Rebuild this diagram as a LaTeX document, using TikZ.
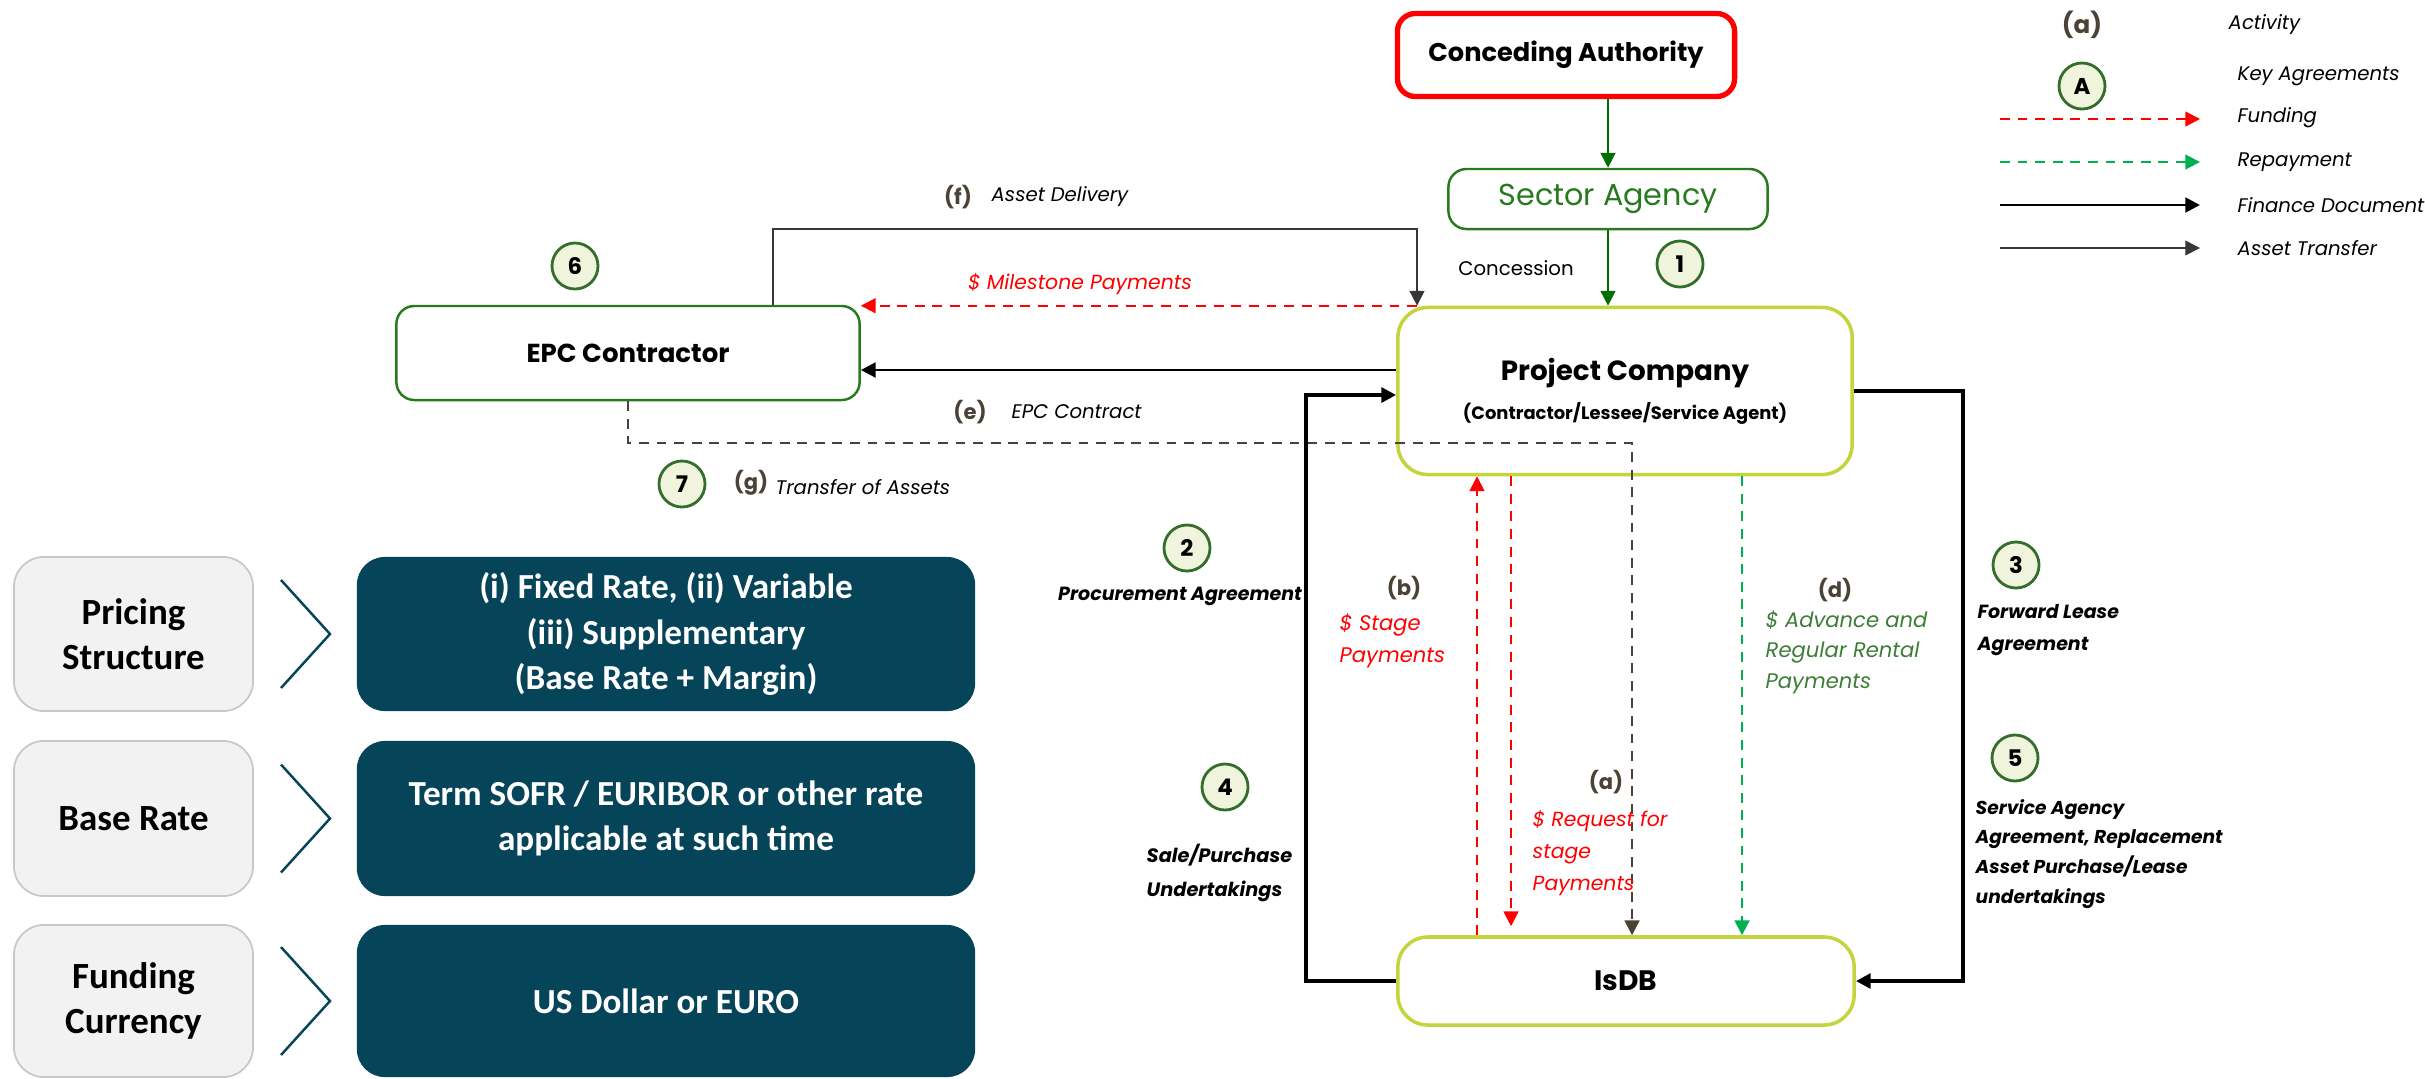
\documentclass[tikz,border=0pt]{standalone}
\usepackage{fontspec}
\setmainfont{Poppins}
\newfontfamily\calib{Carlito}
\usetikzlibrary{arrows.meta}
\definecolor{conred}{RGB}{255,0,0}
\definecolor{boxgreen}{RGB}{40,122,30}
\definecolor{arrgreen}{RGB}{0,110,0}
\definecolor{limeedge}{RGB}{196,212,60}
\definecolor{circfill}{RGB}{241,244,220}
\definecolor{circedge}{RGB}{52,110,44}
\definecolor{labbrown}{RGB}{75,66,54}
\definecolor{paygreen}{RGB}{0,176,80}
\definecolor{txtgreen}{RGB}{60,125,55}
\definecolor{teal}{RGB}{6,69,89}
\definecolor{greyfill}{RGB}{242,242,242}
\definecolor{greyedge}{RGB}{200,200,200}
\definecolor{assetgrey}{RGB}{55,55,55}
\newcommand\fsz[2]{\fontsize{#1}{#2}\selectfont}
\begin{document}
\begin{tikzpicture}[x=0.01cm,y=-0.01cm,
  tip/.style={-{Triangle[length=4.2pt,width=4.2pt]}},
  entity/.style={draw,rounded corners=0.18cm,align=center,inner sep=0pt,fill=white},
  limebox/.style={entity,draw=limeedge,line width=1pt,rounded corners=0.3cm},
  greenbox/.style={entity,draw=boxgreen,line width=0.7pt},
  num/.style={circle,draw=circedge,fill=circfill,line width=0.8pt,minimum size=0.46cm,inner sep=0pt,font=\fsz{6.5pt}{7pt}\bfseries},
  act/.style={text=labbrown,font=\fsz{6pt}{7pt}\bfseries,inner sep=0pt},
  note/.style={inner sep=0pt,align=left,anchor=west},
  legtext/.style={note,font=\fsz{5.6pt}{7pt}\itshape},
  fundline/.style={tip,draw=conred,line width=0.6pt,dash pattern=on 2.8pt off 2.2pt},
  repline/.style={tip,draw=paygreen,line width=0.6pt,dash pattern=on 2.8pt off 2.2pt},
  epcline/.style={tip,draw=labbrown,line width=0.6pt,dash pattern=on 2.8pt off 2.2pt},
  finline/.style={tip,draw=black,line width=1.1pt},
  assetline/.style={tip,draw=assetgrey,line width=0.45pt},
  govline/.style={tip,draw=arrgreen,line width=0.5pt},
  greybox/.style={draw=greyedge,fill=greyfill,line width=0.5pt,rounded corners=0.3cm,minimum width=2.39cm,align=center,inner sep=0pt,font=\calib\fsz{10.5pt}{12.8pt}\bfseries},
  tealbox/.style={fill=teal,rounded corners=0.28cm,minimum width=6.18cm,align=center,inner sep=0pt,text=white,font=\calib\fsz{10pt}{13pt}\bfseries},
  chev/.style={draw=teal,line width=0.7pt}
]
\useasboundingbox (0,0) rectangle (2425,1078);

% ---- entities ----
\node[entity,draw=conred,line width=1.5pt,minimum width=3.37cm,minimum height=0.83cm,font=\fsz{7.3pt}{9pt}\bfseries] (concede) at (1566,55) {Conceding Authority};
\node[greenbox,minimum width=3.19cm,minimum height=0.60cm,text=boxgreen,font=\fsz{8.6pt}{9pt}] (sector) at (1608,199) {Sector Agency};
\node[limebox,minimum width=4.54cm,minimum height=1.67cm] (project) at (1625,391) {{\fsz{7.9pt}{10pt}\bfseries Project Company}\\[-1pt]{\fsz{5.1pt}{7pt}\bfseries (Contractor/Lessee/Service Agent)}};
\node[greenbox,minimum width=4.63cm,minimum height=0.94cm,font=\fsz{7.4pt}{8pt}\bfseries] (epc) at (628,353) {EPC Contractor};
\node[limebox,minimum width=4.56cm,minimum height=0.88cm,font=\fsz{8pt}{9pt}\bfseries] (isdb) at (1626,981) {IsDB};

% ---- routing points ----
\coordinate (ad1) at (773,229);
\coordinate (ad2) at (1417,229);
\coordinate (ec) at (1100,370);
\coordinate (dk1) at (628,443);
\coordinate (dk2) at (1632,443);
\coordinate (fl) at (1306,395);
\coordinate (fr) at (1963,981);
\coordinate (ru) at (1477,700);
\coordinate (rd) at (1511,700);
\coordinate (gd) at (1742,700);

% ---- authority chain ----
\draw[govline] (sector.north |- concede.south) -- (sector.north);
\draw[govline] (sector.south) -- (sector.south |- project.north);
\node[font=\fsz{5.6pt}{7pt},inner sep=0pt] (concession) at (1516,268) {Concession};
\node[num] (n1) at (1680,264) {1};

% ---- EPC links ----
\draw[assetline] (ad1 |- epc.north) -- (ad1) -- (ad2) -- (ad2 |- project.north);
\node[act] (lf) at (958,197) {(f)};
\node[note,font=\fsz{5.6pt}{7pt}\itshape] (adlab) at (991,197) {Asset Delivery};
\draw[fundline] (ad2 |- project.north) -- (epc.east |- project.north);
\node[inner sep=0pt,text=conred,font=\fsz{5.8pt}{7pt}\itshape] (mslab) at (1080,284) {\$ Milestone Payments};
\draw[tip,draw=black,line width=0.8pt] (ec -| project.west) -- (ec -| epc.east);
\node[act] (le) at (970,412) {(e)};
\node[note,font=\fsz{5.6pt}{7pt}\itshape] (eclab) at (1011,412) {EPC Contract};
\draw[epcline] (dk1 |- epc.south) -- (dk1) -- (dk2) -- (dk2 |- isdb.north);
\node[num] (n6) at (575,266) {6};
\node[num] (n7) at (682,484) {7};
\node[act] (lg) at (751,483) {(g)};
\node[note,font=\fsz{5.6pt}{7pt}\itshape] (talab) at (775,487) {Transfer of Assets};

% ---- finance documents ----
\draw[finline] (isdb.west) -| (fl) -- (fl -| project.west);
\draw[finline] (project.east) -| (fr) -- (isdb.east);
\node[num] (n2) at (1187,548) {2};
\node[inner sep=0pt,font=\fsz{5.4pt}{7pt}\bfseries\itshape] (palab) at (1180,596) {Procurement Agreement};
\node[num] (n4) at (1225,787) {4};
\node[note,font=\fsz{5.5pt}{9.6pt}\bfseries\itshape] (splab) at (1146,873) {Sale/Purchase\\Undertakings};
\node[num] (n3) at (2016,565) {3};
\node[note,font=\fsz{5.4pt}{9pt}\bfseries\itshape] (fllab) at (1977,630) {Forward Lease\\Agreement};
\node[num] (n5) at (2015,758) {5};
\node[note,font=\fsz{5.3pt}{8.5pt}\bfseries\itshape] (salab) at (1975,854) {Service Agency\\Agreement, Replacement\\Asset Purchase/Lease\\undertakings};

% ---- payment flows ----
\draw[fundline] (ru |- isdb.north) -- (ru |- project.south);
\draw[fundline,shorten >=0.09cm] (rd |- project.south) -- (rd |- isdb.north);
\draw[repline] (gd |- project.south) -- (gd |- isdb.north);
\node[act] (lb) at (1404,588) {(b)};
\node[note,text=conred,font=\fsz{6pt}{9.1pt}\itshape] (stlab) at (1339,641) {\$ Stage\\Payments};
\node[act] (la) at (1606,782) {(a)};
\node[note,text=conred,font=\fsz{5.8pt}{9.1pt}\itshape] (rqlab) at (1532,853) {\$ Request for\\stage\\Payments};
\node[act] (ld) at (1835,590) {(d)};
\node[note,text=txtgreen,font=\fsz{6pt}{8.7pt}\itshape] (rplab) at (1765,652) {\$ Advance and\\Regular Rental\\Payments};

% ---- legend ----
\node[act,font=\fsz{7pt}{8pt}\bfseries] (kact) at (2082,25) {(a)};
\node[legtext] (tact) at (2228,25) {Activity};
\node[num,minimum size=0.46cm] (kagr) at (2082,86) {A};
\node[legtext] (tagr) at (2237,76) {Key Agreements};
\coordinate (kf0) at (2000,119); \coordinate (kf1) at (2200,119);
\coordinate (kr0) at (2000,162); \coordinate (kr1) at (2200,162);
\coordinate (kd0) at (2000,205); \coordinate (kd1) at (2200,205);
\coordinate (kt0) at (2000,248); \coordinate (kt1) at (2200,248);
\draw[fundline] (kf0) -- (kf1);
\draw[repline] (kr0) -- (kr1);
\draw[finline,line width=0.8pt] (kd0) -- (kd1);
\draw[assetline] (kt0) -- (kt1);
\node[legtext] (tfun) at (2237,118) {Funding};
\node[legtext] (trep) at (2237,162) {Repayment};
\node[legtext] (tfin) at (2237,205) {Finance Document};
\node[legtext] (tast) at (2237,248) {Asset Transfer};

% ---- terms panel ----
\node[greybox,minimum height=1.54cm] (g1) at (133.5,634) {Pricing\\Structure};
\node[greybox,minimum height=1.55cm] (g2) at (133.5,818.5) {Base Rate};
\node[greybox,minimum height=1.52cm] (g3) at (133.5,1001) {Funding\\Currency};
\node[tealbox,minimum height=1.54cm] (d1) at (666,634) {(i) Fixed Rate, (ii) Variable\\(iii) Supplementary\\(Base Rate + Margin)};
\node[tealbox,minimum height=1.55cm] (d2) at (666,818.5) {Term SOFR / EURIBOR or other rate\\applicable at such time};
\node[tealbox,minimum height=1.52cm] (d3) at (666,1001) {US Dollar or EURO};
\foreach \c in {634,818.5,1001}{
  \draw[chev] (281,\c-54) -- (330,\c) -- (281,\c+54);
}
\end{tikzpicture}
\end{document}
